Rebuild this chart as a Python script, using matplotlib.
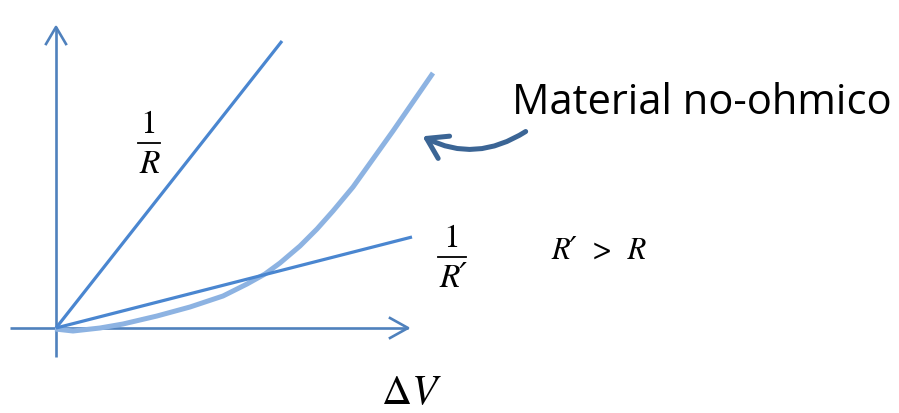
import matplotlib
matplotlib.use("Agg")
import matplotlib.pyplot as plt
from matplotlib.patches import FancyArrowPatch

plt.rcParams['mathtext.fontset'] = 'stix'

# schematic data (units: arbitrary, origin at 0)
line_R_x = [0, 226]
line_R_y = [0, 287]
line_Rp_x = [0, 356]
line_Rp_y = [0, 91]
curve_x = [-1, 17, 44, 67, 101, 134, 167, 191, 209, 224, 244, 261, 277, 297, 317, 337, 357, 377]
curve_y = [-1, -3, 0, 4, 12, 21, 32, 44, 54, 65, 82, 99, 117, 141, 169, 197, 226, 255]

axis_x_range = (-46, 352)
axis_y_range = (-29, 301)

blue_line = '#4A86D0'
blue_axis = '#4F81BD'
blue_light = '#8DB3E2'
blue_dark = '#3B6595'

fig = plt.figure(figsize=(8.99, 4.14), dpi=100)
ax = fig.add_axes([0, 0, 1, 1])
ax.set_xlim(-56, 843)
ax.set_ylim(-85, 329)
ax.axis('off')

# axes with open arrowheads
ax.plot(axis_x_range, [0, 0], color=blue_axis, lw=1.9, solid_capstyle='butt')
ax.plot([0, 0], axis_y_range, color=blue_axis, lw=1.9, solid_capstyle='butt')
xe = axis_x_range[1]
ax.plot([xe - 18, xe, xe - 18], [10, 0, -10], color=blue_axis, lw=1.9)
ye = axis_y_range[1]
ax.plot([-10, 0, 10], [ye - 17, ye, ye - 17], color=blue_axis, lw=1.9)

# lines
ax.plot(curve_x, curve_y, color=blue_light, lw=3.6, solid_capstyle='butt',
        solid_joinstyle='round', zorder=2)
ax.plot(line_R_x, line_R_y, color=blue_line, lw=2.3, solid_capstyle='butt', zorder=3)
ax.plot(line_Rp_x, line_Rp_y, color=blue_line, lw=2.3, solid_capstyle='butt', zorder=3)

# fraction labels built from parts
serif_fam = ['STIXGeneral', 'DejaVu Serif']
def frac(xc, ybar, den, half):
    ax.text(xc, ybar + 4, '1', fontsize=24, ha='center', va='bottom', family=serif_fam)
    ax.plot([xc - half, xc + half], [ybar, ybar], color='black', lw=1.3)
    ax.text(xc + 1, ybar - 6, den, fontsize=24, ha='center', va='top',
            style='italic', family=serif_fam)

frac(93, 185, 'R', 11)
frac(396, 71, 'R\u2032', 14)

ax.text(543, 78, 'R\u2032  >  R', fontsize=22, ha='center', va='center',
        style='italic', family=serif_fam)
ax.text(355, -63, r'$\Delta V$', fontsize=30, ha='center', va='center')
ax.text(456, 226, 'Material no-ohmico', fontsize=30, ha='left', va='center',
        family=['Open Sans', 'DejaVu Sans'])

# curved arrow
arr = FancyArrowPatch((472, 198), (364, 193), connectionstyle='arc3,rad=-0.3',
                      arrowstyle='->,head_length=0.7,head_width=0.45',
                      color=blue_dark, lw=3.6, mutation_scale=20)
ax.add_patch(arr)

fig.savefig('out.png', dpi=100)
